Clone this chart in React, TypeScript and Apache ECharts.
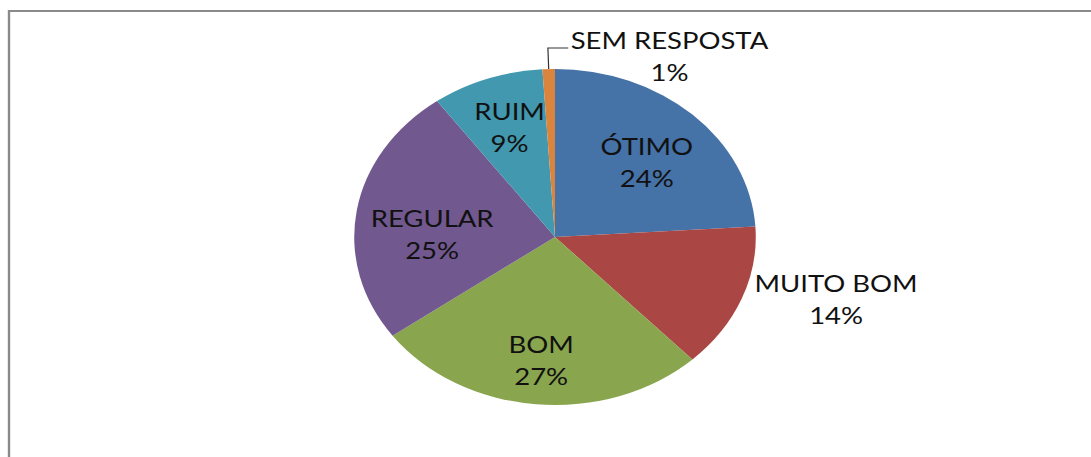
import React, { useEffect, useRef } from "react";
import * as echarts from "echarts";

const categories = ["ÓTIMO", "MUITO BOM", "BOM", "REGULAR", "RUIM", "SEM RESPOSTA"];
const values = [24, 14, 27, 25, 9, 1];
const colors = ["#4572A7", "#AA4643", "#89A54E", "#71588F", "#4198AF", "#DB843D"];
const outsideLabels = ["MUITO BOM", "SEM RESPOSTA"];

const SCALE_X = 1.195;
const W = 1091;
const H = 457;
const innerW = Math.ceil(W / SCALE_X);

// small "best fit" nudges for the inside labels (label styling only)
const insideNudge: Record<string, [number, number]> = {
  "ÓTIMO": [0, 7],
  "BOM": [-1, 11],
  "REGULAR": [8, 14],
  "RUIM": [0, -5],
};

export default function App() {
  const ref = useRef<HTMLDivElement>(null);

  useEffect(() => {
    if (!ref.current) return;
    const chart = echarts.init(ref.current, undefined, { renderer: "svg" });
    const cx = 555 / SCALE_X;
    const cy = 237;
    const R = 168;
    const font = {
      fontFamily: "Lato",
      fontSize: 23,
      lineHeight: 32,
      color: "#111111",
    };

    const mainData = categories.map((name, i) => {
      const outside = outsideLabels.includes(name);
      return {
        name,
        value: values[i],
        itemStyle: { color: colors[i] },
        label: { show: outside },
        labelLine:
          name === "SEM RESPOSTA"
            ? { show: true, length: 21, length2: 17 }
            : { show: false, length: 3, length2: 5 },
      };
    });

    const overlayData = categories.map((name, i) => ({
      name,
      value: values[i],
      label: { show: !outsideLabels.includes(name) },
    }));

    chart.setOption({
      animation: false,
      backgroundColor: "#ffffff",
      graphic: [
        {
          type: "rect",
          shape: { x: 9 / SCALE_X, y: 11, width: innerW + 50, height: H + 50 },
          style: { fill: "none", stroke: "#8a8a8a", lineWidth: 2 },
          silent: true,
        },
      ],
      series: [
        {
          type: "pie",
          center: [cx, cy],
          radius: [0, R],
          startAngle: 90,
          clockwise: true,
          avoidLabelOverlap: false,
          percentPrecision: 0,
          emphasis: { disabled: true },
          itemStyle: { borderWidth: 0 },
          label: {
            position: "outside",
            formatter: "{b}\n{d}%",
            ...font,
          },
          labelLine: {
            lineStyle: { color: "#333333", width: 1 },
            smooth: false,
          },
          labelLayout: (p: any) => {
            const pts = p.labelLinePoints;
            if (!pts || !p.labelRect) return {};
            const a = pts[0];
            const b = pts[1];
            const c = pts[2];
            const endX = b[0] + Math.abs(c[0] - b[0]);
            const w = p.labelRect.width;
            if (p.dataIndex === categories.indexOf("SEM RESPOSTA")) {
              return {
                x: endX + 2 + w / 2,
                y: b[1] - 24,
                align: "center",
                verticalAlign: "top",
                labelLinePoints: [a, b, [endX, b[1]]],
              };
            }
            return {
              x: endX + 3 + w / 2,
              y: b[1] - 1,
              align: "center",
              verticalAlign: "middle",
            };
          },
          data: mainData,
        },
        {
          type: "pie",
          center: [cx, cy],
          radius: [R * 0.3, R],
          startAngle: 90,
          clockwise: true,
          silent: true,
          avoidLabelOverlap: false,
          percentPrecision: 0,
          emphasis: { disabled: true },
          itemStyle: { color: "transparent", borderWidth: 0 },
          label: {
            position: "inside",
            formatter: "{b}\n{d}%",
            ...font,
          },
          labelLine: { show: false },
          labelLayout: (p: any) => {
            const n = insideNudge[categories[p.dataIndex]];
            return n ? { dx: n[0], dy: n[1] } : {};
          },
          data: overlayData,
        },
      ],
    });
    return () => chart.dispose();
  }, []);

  return (
    <div
      style={{
        position: "fixed",
        left: 0,
        top: 0,
        width: W,
        height: H,
        overflow: "hidden",
        background: "#fff",
      }}
    >
      <div
        ref={ref}
        style={{
          width: innerW,
          height: H,
          transform: `scaleX(${SCALE_X})`,
          transformOrigin: "0 0",
        }}
      />
    </div>
  );
}
